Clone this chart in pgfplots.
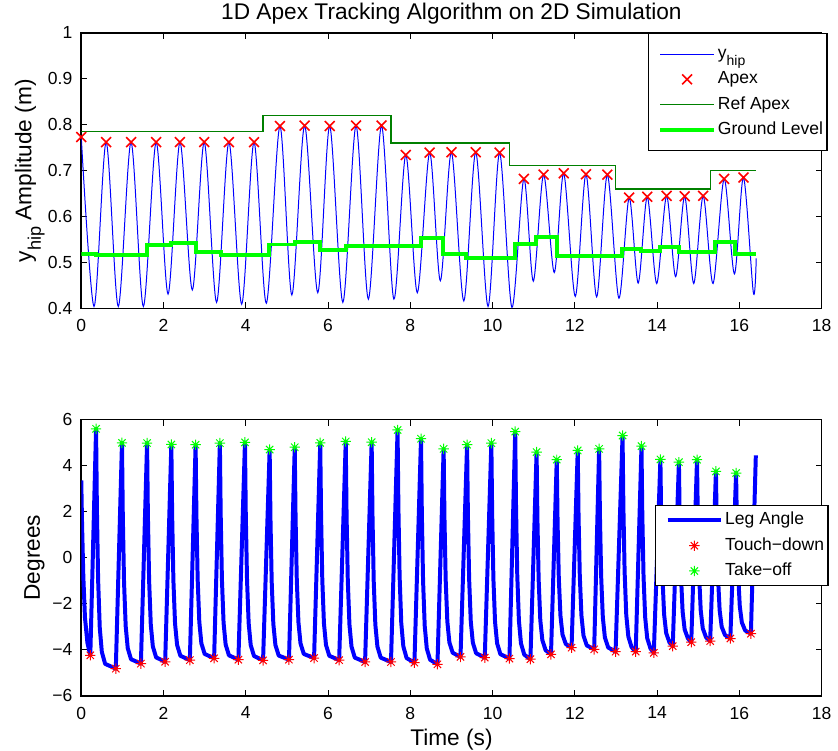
\documentclass[border=0pt]{standalone}
\usepackage{fontspec}
\setmainfont{Liberation Sans}
\usepackage{graphicx}
\usepackage{pgfplots}
\pgfplotsset{compat=1.18}

% MATLAB style 8-armed asterisk
\pgfdeclareplotmark{star8}{%
  \pgfpathmoveto{\pgfqpoint{-\pgfplotmarksize}{0pt}}\pgfpathlineto{\pgfqpoint{\pgfplotmarksize}{0pt}}%
  \pgfpathmoveto{\pgfqpoint{0pt}{-\pgfplotmarksize}}\pgfpathlineto{\pgfqpoint{0pt}{\pgfplotmarksize}}%
  \pgfpathmoveto{\pgfqpoint{-0.707\pgfplotmarksize}{-0.707\pgfplotmarksize}}\pgfpathlineto{\pgfqpoint{0.707\pgfplotmarksize}{0.707\pgfplotmarksize}}%
  \pgfpathmoveto{\pgfqpoint{-0.707\pgfplotmarksize}{0.707\pgfplotmarksize}}\pgfpathlineto{\pgfqpoint{0.707\pgfplotmarksize}{-0.707\pgfplotmarksize}}%
  \pgfusepathqstroke}

% tex-like subscript as MATLAB sets it
\newcommand{\sub}[1]{\raisebox{-0.42em}{\scalebox{0.8}{#1}}}

\definecolor{mgreen}{rgb}{0,1,0}
\definecolor{refgreen}{rgb}{0,0.5,0}

\pgfplotsset{
  every axis/.append style={
    scale only axis, width=372.2pt,
    xmin=0, xmax=18, enlargelimits=false,
    xtick={0,2,4,6,8,10,12,14,16,18},
    xticklabels={0,2,4,6,8,10,12,14,16,18},
    tick align=inside, major tick length=3pt,
    tick label style={font=\fontsize{8.8}{10}\selectfont},
    xticklabel style={yshift=-2pt},
    yticklabel style={xshift=-1pt},
    axis line style={line width=0.8pt},
    every tick/.style={black, line width=0.5pt},
    label style={font=\fontsize{11.4}{13}\selectfont},
    ylabel style={at={(axis description cs:-0.049,0.5)}, anchor=south, inner sep=0pt},
    legend cell align=left,
    legend style={font=\fontsize{8.8}{10}\selectfont, draw=black, line width=0.6pt,
      inner xsep=1pt, inner ysep=2.7pt,
      nodes={inner xsep=1pt, inner ysep=2pt, text height=6.6pt, text depth=2.1pt}},
    legend image code/.code={%
      \path (-4pt,0pt);
      \draw[mark repeat=2,mark phase=2,#1] plot coordinates {(0pt,0pt) (13.5pt,0pt) (27pt,0pt)};},
  }
}

\begin{document}
\begin{tikzpicture}
\begin{axis}[
  height=138.5pt,
  ymin=0.4, ymax=1,
  ytick={0.4,0.5,0.6,0.7,0.8,0.9,1},
  yticklabels={0.4,0.5,0.6,0.7,0.8,0.9,1},
  title={1D Apex Tracking Algorithm on 2D Simulation},
  title style={font=\fontsize{11.4}{13}\selectfont, at={(0.5,1)}, anchor=base,
    yshift=0.8pt, inner sep=0pt, text height=8pt},
  ylabel={y\sub{hip} Amplitude (m)},
  legend style={at={(1,1)}, anchor=north east, xshift=3pt, inner ysep=4pt},
]
\addplot[blue, line width=0.5pt, smooth] coordinates {
  (0,0.773) (0.31,0.404) (0.605,0.762) (0.90,0.404) (1.21,0.762) (1.51,0.404)
  (1.82,0.762) (2.11,0.431) (2.40,0.762) (2.70,0.440) (2.99,0.762) (3.29,0.413)
  (3.59,0.762) (3.90,0.409) (4.20,0.762) (4.50,0.411) (4.83,0.797) (5.12,0.429)
  (5.43,0.798) (5.75,0.434) (6.04,0.797) (6.36,0.413) (6.68,0.798) (6.98,0.420)
  (7.30,0.798) (7.60,0.420) (7.89,0.734) (8.17,0.434) (8.47,0.739) (8.73,0.460)
  (9.00,0.740) (9.30,0.416) (9.59,0.740) (9.89,0.404) (10.17,0.739) (10.47,0.402)
  (10.76,0.682) (10.99,0.459) (11.24,0.691) (11.50,0.478) (11.73,0.694) (12.01,0.426)
  (12.27,0.692) (12.53,0.425) (12.79,0.691) (13.07,0.422) (13.32,0.641) (13.54,0.455)
  (13.76,0.643) (13.99,0.454) (14.23,0.645) (14.45,0.469) (14.67,0.644) (14.89,0.454)
  (15.12,0.645) (15.36,0.454) (15.63,0.682) (15.88,0.475) (16.10,0.685) (16.34,0.434)
  (16.41,0.509)
};
\addlegendentry{y\sub{hip}}
\addplot[only marks, red, mark=x, mark size=3.5pt, mark options={line width=0.8pt}] coordinates {
  (0,0.773) (0.605,0.762) (1.21,0.762) (1.82,0.762) (2.40,0.762) (2.99,0.762)
  (3.59,0.762) (4.20,0.762) (4.83,0.797) (5.43,0.798) (6.04,0.797) (6.68,0.798)
  (7.30,0.798) (7.89,0.734) (8.47,0.739) (9.00,0.740) (9.59,0.740) (10.17,0.739)
  (10.76,0.682) (11.24,0.691) (11.73,0.694) (12.27,0.692) (12.79,0.691) (13.32,0.641)
  (13.76,0.643) (14.23,0.645) (14.67,0.644) (15.12,0.645) (15.63,0.682) (16.10,0.685)
};
\addlegendentry{Apex}
\addplot[refgreen, line width=0.6pt, const plot] coordinates {
  (0,0.785) (4.42,0.82) (7.53,0.76) (10.41,0.711) (12.99,0.660) (15.29,0.700) (16.41,0.700)
};
\addlegendentry{Ref Apex}
\addplot[mgreen, line width=2pt, const plot] coordinates {
  (0,0.519) (0.36,0.516) (1.61,0.537) (2.19,0.543) (2.78,0.522) (3.39,0.517)
  (4.56,0.539) (5.19,0.545) (5.81,0.528) (6.44,0.535) (8.26,0.554) (8.80,0.518)
  (9.36,0.509) (10.55,0.540) (11.06,0.556) (11.56,0.515) (13.14,0.530) (13.62,0.525)
  (14.06,0.534) (14.53,0.523) (15.41,0.545) (15.90,0.518) (16.41,0.518)
};
\addlegendentry{Ground Level}
\end{axis}

\begin{axis}[
  at={(0pt,-194.8pt)},
  height=138.85pt,
  ymin=-6, ymax=6,
  ytick={-6,-4,-2,0,2,4,6},
  yticklabels={−6,−4,−2,0,2,4,6},
  xlabel={Time (s)},
  xlabel style={at={(axis description cs:0.5,0)}, anchor=base, yshift=-25pt, inner sep=0pt},
  ylabel={Degrees},
  legend style={at={(1,0.69)}, anchor=north east, xshift=3.5pt, inner ysep=1pt},
]
\addplot[blue, line width=2pt, line join=round] coordinates {
  (0,3.36) (0.02,1.40) (0.05,-0.80) (0.09,-2.60) (0.15,-3.70) (0.22,-4.24)
  (0.36,5.60) (0.38,2.16) (0.41,-0.96) (0.45,-3.05) (0.50,-4.09) (0.58,-4.61) (0.84,-4.82)
  (0.99,4.99) (1.01,1.83) (1.04,-1.05) (1.08,-2.97) (1.13,-3.93) (1.21,-4.41) (1.45,-4.60)
  (1.60,4.98) (1.62,1.85) (1.65,-1.00) (1.69,-2.90) (1.74,-3.85) (1.82,-4.33) (2.04,-4.52)
  (2.19,4.92) (2.21,1.83) (2.24,-0.98) (2.28,-2.86) (2.33,-3.79) (2.41,-4.26) (2.64,-4.45)
  (2.78,4.91) (2.80,1.85) (2.83,-0.94) (2.87,-2.79) (2.92,-3.72) (3.00,-4.18) (3.23,-4.37)
  (3.37,4.98) (3.39,1.87) (3.42,-0.95) (3.46,-2.83) (3.51,-3.77) (3.59,-4.24) (3.82,-4.43)
  (3.98,5.01) (4.00,1.88) (4.03,-0.96) (4.07,-2.85) (4.12,-3.80) (4.20,-4.27) (4.42,-4.46)
  (4.58,4.70) (4.60,1.69) (4.63,-1.05) (4.67,-2.88) (4.72,-3.79) (4.80,-4.25) (5.05,-4.43)
  (5.19,4.80) (5.21,1.78) (5.24,-0.97) (5.28,-2.80) (5.33,-3.72) (5.41,-4.18) (5.66,-4.36)
  (5.81,4.99) (5.83,1.87) (5.86,-0.96) (5.90,-2.85) (5.95,-3.79) (6.03,-4.26) (6.27,-4.45)
  (6.43,5.05) (6.45,1.89) (6.48,-0.99) (6.52,-2.90) (6.57,-3.86) (6.65,-4.34) (6.90,-4.53)
  (7.06,5.02) (7.08,1.87) (7.11,-1.00) (7.15,-2.91) (7.20,-3.86) (7.28,-4.34) (7.53,-4.53)
  (7.69,5.55) (7.71,2.21) (7.74,-0.82) (7.78,-2.84) (7.83,-3.85) (7.91,-4.36) (8.10,-4.56)
  (8.26,5.17) (8.28,1.94) (8.31,-1.00) (8.35,-2.96) (8.40,-3.94) (8.48,-4.43) (8.66,-4.63)
  (8.81,4.73) (8.83,1.75) (8.86,-0.97) (8.90,-2.77) (8.95,-3.68) (9.03,-4.13) (9.22,-4.31)
  (9.38,4.91) (9.40,1.86) (9.43,-0.92) (9.47,-2.77) (9.52,-3.69) (9.60,-4.15) (9.81,-4.34)
  (9.97,4.98) (9.99,1.89) (10.02,-0.92) (10.06,-2.79) (10.11,-3.72) (10.19,-4.19) (10.41,-4.38)
  (10.55,5.48) (10.57,2.22) (10.60,-0.75) (10.64,-2.73) (10.69,-3.72) (10.77,-4.21) (10.92,-4.41)
  (11.07,4.59) (11.09,1.69) (11.12,-0.95) (11.16,-2.71) (11.21,-3.58) (11.29,-4.02) (11.42,-4.20)
  (11.56,4.26) (11.58,1.56) (11.61,-0.89) (11.65,-2.52) (11.70,-3.34) (11.78,-3.75) (11.92,-3.91)
  (12.07,4.66) (12.09,1.81) (12.12,-0.78) (12.16,-2.51) (12.21,-3.38) (12.29,-3.81) (12.47,-3.98)
  (12.59,4.73) (12.61,1.82) (12.64,-0.82) (12.68,-2.58) (12.73,-3.46) (12.81,-3.90) (12.99,-4.08)
  (13.16,5.31) (13.18,2.21) (13.21,-0.61) (13.25,-2.48) (13.30,-3.42) (13.38,-3.89) (13.48,-4.08)
  (13.62,4.85) (13.64,1.89) (13.67,-0.81) (13.71,-2.60) (13.76,-3.50) (13.84,-3.95) (13.92,-4.13)
  (14.08,4.27) (14.10,1.59) (14.13,-0.84) (14.17,-2.46) (14.22,-3.27) (14.30,-3.68) (14.38,-3.84)
  (14.53,4.15) (14.55,1.57) (14.58,-0.78) (14.62,-2.34) (14.67,-3.12) (14.75,-3.51) (14.83,-3.67)
  (14.97,4.26) (14.99,1.66) (15.02,-0.70) (15.06,-2.28) (15.11,-3.07) (15.19,-3.46) (15.29,-3.62)
  (15.43,3.75) (15.45,1.35) (15.48,-0.82) (15.52,-2.28) (15.57,-3.00) (15.65,-3.36) (15.78,-3.51)
  (15.92,3.68) (15.94,1.38) (15.97,-0.72) (16.01,-2.11) (16.06,-2.81) (16.14,-3.16) (16.28,-3.30)
  (16.40,4.45)
};
\addlegendentry{Leg Angle}
\addplot[only marks, red, mark=star8, mark size=2.6pt, mark options={line width=0.5pt}] coordinates {
  (0.22,-4.24) (0.84,-4.82) (1.45,-4.60) (2.04,-4.52) (2.64,-4.45) (3.23,-4.37)
  (3.82,-4.43) (4.42,-4.46) (5.05,-4.43) (5.66,-4.36) (6.27,-4.45) (6.90,-4.53)
  (7.53,-4.53) (8.10,-4.56) (8.66,-4.63) (9.22,-4.31) (9.81,-4.34) (10.41,-4.38)
  (10.92,-4.41) (11.42,-4.20) (11.92,-3.91) (12.47,-3.98) (12.99,-4.08) (13.48,-4.08)
  (13.92,-4.13) (14.38,-3.84) (14.83,-3.67) (15.29,-3.62) (15.78,-3.51) (16.28,-3.30)
};
\addlegendentry{Touch−down}
\addplot[only marks, mgreen, mark=star8, mark size=2.6pt, mark options={line width=0.5pt}] coordinates {
  (0.36,5.60) (0.99,4.99) (1.60,4.98) (2.19,4.92) (2.78,4.91) (3.37,4.98)
  (3.98,5.01) (4.58,4.70) (5.19,4.80) (5.81,4.99) (6.43,5.05) (7.06,5.02)
  (7.69,5.55) (8.26,5.17) (8.81,4.73) (9.38,4.91) (9.97,4.98) (10.55,5.48)
  (11.07,4.59) (11.56,4.26) (12.07,4.66) (12.59,4.73) (13.16,5.31) (13.62,4.85)
  (14.08,4.27) (14.53,4.15) (14.97,4.26) (15.43,3.75) (15.92,3.68)
};
\addlegendentry{Take−off}
\end{axis}

% page frame matching the reference proportions
\path (-40.85pt,-221.45pt) rectangle (378.15pt,155pt);
\end{tikzpicture}
\end{document}
